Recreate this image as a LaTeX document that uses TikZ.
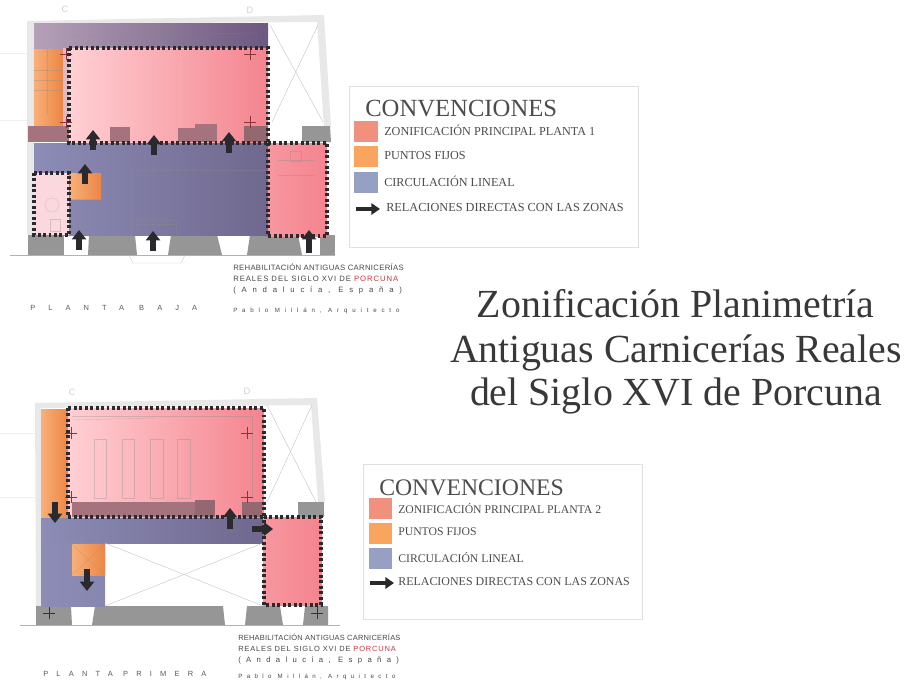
\documentclass[tikz,border=0pt]{standalone}
\usepackage{fontspec}
\setmainfont{Liberation Serif}
\setsansfont{Liberation Sans}
\usetikzlibrary{arrows.meta}
\definecolor{muro}{RGB}{232,232,232}
\definecolor{bloque}{RGB}{150,150,150}
\definecolor{malva}{RGB}{165,115,125}
\definecolor{rosaA}{RGB}{255,208,212}
\definecolor{rosaB}{RGB}{244,132,142}
\definecolor{rosaC}{RGB}{250,216,222}
\definecolor{naranjaA}{RGB}{248,176,120}
\definecolor{naranjaB}{RGB}{236,134,70}
\definecolor{azulA}{RGB}{140,140,182}
\definecolor{azulB}{RGB}{112,104,142}
\definecolor{moradoA}{RGB}{180,160,182}
\definecolor{moradoB}{RGB}{108,88,128}
\definecolor{oscuro}{RGB}{42,42,46}
\definecolor{cruzroja}{RGB}{140,50,60}
\definecolor{trazo}{RGB}{195,195,200}
\definecolor{fondoA}{RGB}{240,145,125}
\definecolor{fondoB}{RGB}{250,165,95}
\definecolor{fondoC}{RGB}{150,160,195}
\definecolor{rojo}{RGB}{205,50,60}
\begin{document}
\begin{tikzpicture}[x=0.75pt,y=-0.75pt,
  flecha/.style={draw=oscuro,line width=4.2pt,-{Triangle[width=10.5pt,length=7pt]}},
  flechita/.style={draw=oscuro,line width=3.2pt,-{Triangle[width=8.5pt,length=6.5pt]}},
  borde/.style={draw=oscuro,line width=2.4pt,dash pattern=on 2.2pt off 1.9pt},
  fino/.style={draw=trazo,line width=0.3pt},
  tenue/.style={draw=black!45,line width=0.3pt,opacity=0.35},
  cruz/.style={draw=cruzroja,line width=0.6pt},
  titulo/.style={anchor=base,inner sep=0pt,text=black!78,font=\fontsize{29.9}{32}\selectfont},
  leyenda/.style={anchor=base west,inner sep=0pt,text=black!70},
  pie/.style={anchor=base west,inner sep=0pt,text=black!72,font=\sffamily\fontsize{5.8}{6}\selectfont},
  plano/.style={anchor=base west,inner sep=0pt,text=black!65,font=\sffamily\fontsize{5.6}{6}\selectfont},
  caja/.style={draw=black!12,line width=0.7pt,fill=white}]
\useasboundingbox (0,0) rectangle (906,679);

\draw[draw=black!6,line width=0.4pt] (0,53)--(28,53);
\draw[draw=black!6,line width=0.4pt] (0,120)--(28,120);
\draw[draw=black!6,line width=0.4pt] (0,433)--(35,433);
\draw[draw=black!6,line width=0.4pt] (0,497)--(35,497);
\draw (65,9) node (ejeC) [text=black!18,font=\sffamily\scriptsize]{C};
\draw (250,10) node (ejeD) [text=black!18,font=\sffamily\scriptsize]{D};
\draw (72,392) node (ejeCb) [text=black!18,font=\sffamily\scriptsize]{C};
\draw (247,391) node (ejeDb) [text=black!18,font=\sffamily\scriptsize]{D};

\fill[muro] (27,21)--(324,15)--(331,127)--(324,127)--(317,22)--(34,24)--(34,235)--(27,235)--cycle;
\draw[draw=black!30,line width=0.4pt] (10,255)--(335,255);
\fill[bloque] (28,235)--(64,235)--(64,255)--(28,255)--cycle;
\fill[bloque] (89,235)--(135,235)--(137,255)--(88,255)--cycle;
\fill[bloque] (171,235)--(217,235)--(222,255)--(168,255)--cycle;
\fill[bloque] (250,235)--(298,235)--(302,255)--(247,255)--cycle;
\fill[bloque] (320,235)--(335,235)--(335,255)--(320,255)--cycle;
\fill[bloque] (302,126)--(330,126)--(331,142)--(302,142)--cycle;
\draw[fino] (129,255)--(133,263)--(181,263)--(185,255);

\shade[left color=moradoA,right color=moradoB] (34,23) rectangle (268,48);
\shade[left color=naranjaA,right color=naranjaB] (34,49) rectangle (63,126);
\fill[rosaC!70!malva] (63,48) rectangle (69,126);
\fill[malva] (28,126) rectangle (70,142);
\shade[left color=rosaA,right color=rosaB] (69,48) rectangle (268,143);
\fill[malva] (110,127) rectangle (130,142);
\fill[malva] (178,128) rectangle (195,142);
\fill[malva] (195,124) rectangle (217,142);
\fill[malva!90!black] (244,126) rectangle (268,142);
\shade[left color=azulA,right color=azulB] (34,143) rectangle (268,235);
\fill[rosaC] (34,173) rectangle (69,235);
\shade[left color=naranjaA,right color=naranjaB] (70,173) rectangle (101,199);
\shade[left color=rosaB!75!rosaA,right color=rosaB] (268,143) rectangle (327,236);
\draw[tenue] (70,199) rectangle (101,235);
\draw[tenue] (131,170)--(268,170);
\draw[tenue] (131,170)--(131,235);
\draw[tenue] (133,220)--(176,220)--(176,235);
\draw[tenue] (133,224)--(176,224);
\draw[tenue] (52,205) circle (7);
\draw[tenue] (50,219) rectangle (60,231);
\draw[tenue] (86,212) circle (7);
\draw[fino] (270,25)--(323,122);
\draw[fino] (318,25)--(272,122);
\draw[tenue] (278,160)--(315,160);
\draw[tenue] (278,175)--(315,175);
\draw[tenue] (290,151) rectangle (301,161);
\draw[tenue] (70,36)--(256,33)--(256,122);
\draw[tenue] (47,50)--(47,114);
\draw[tenue] (34,70)--(63,70);
\draw[tenue] (34,80)--(63,80);
\draw[tenue] (34,90)--(63,90);

\draw[cruz] (66,48)--(66,60);
\draw[cruz] (60,54)--(72,54);
\draw[cruz] (250,48)--(250,60);
\draw[cruz] (244,54)--(256,54);
\draw[cruz] (66,116)--(66,128);
\draw[cruz] (60,122)--(72,122);
\draw[cruz] (250,116)--(250,128);
\draw[cruz] (244,122)--(256,122);

\draw[borde] (69,48) rectangle (268,143);
\draw[borde] (34,173) rectangle (69,235);
\draw[borde] (268,143)--(327,143)--(327,236)--(268,236)--cycle;

\draw[flecha] (93,150)--(93,130);
\draw[flecha] (154,155)--(154,135);
\draw[flecha] (229,153)--(229,132);
\draw[flecha] (85,184)--(85,164);
\draw[flecha] (79,250)--(79,230);
\draw[flecha] (153,251)--(153,231);
\draw[flecha] (309,253)--(309,230);

\draw (30,310) node (plantabaja) [plano]{\addfontfeature{LetterSpace=175}PLANTA BAJA};
\draw (233,270) node (rehaA) [pie]{\addfontfeature{LetterSpace=4}REHABILITACIÓN ANTIGUAS CARNICERÍAS};
\draw (233,281) node (rehaB) [pie]{\addfontfeature{LetterSpace=12}REALES DEL SIGLO XVI DE \textcolor{rojo}{PORCUNA}};
\draw (233,292) node (rehaC) [pie]{\addfontfeature{LetterSpace=75}(Andalucía, España)};
\draw (233,312) node (rehaD) [pie]{\fontsize{4.6}{6}\selectfont\addfontfeature{LetterSpace=79}Pablo Millán, Arquitecto};

\draw[caja] (349,86) rectangle (638,247);
\draw (365,116) node (conv) [leyenda,font=\fontsize{18.5}{20}\selectfont]{CONVENCIONES};
\fill[fondoA] (354,121) rectangle (378,142);
\fill[fondoB] (354,146) rectangle (378,167);
\fill[fondoC] (354,172) rectangle (378,193);
\draw[flechita] (356,209)--(380,209);
\draw (384,135.5) node (convA) [leyenda,font=\fontsize{9.15}{10}\selectfont]{ZONIFICACIÓN PRINCIPAL PLANTA 1};
\draw (384,159.5) node (convB) [leyenda,font=\fontsize{9.15}{10}\selectfont]{PUNTOS FIJOS};
\draw (384,186.5) node (convC) [leyenda,font=\fontsize{9.15}{10}\selectfont]{CIRCULACIÓN LINEAL};
\draw (386,211.5) node (convD) [leyenda,font=\fontsize{9.2}{10}\selectfont]{RELACIONES DIRECTAS CON LAS ZONAS};

\draw (675.5,317) node (tituloA) [titulo]{Zonificación Planimetría};
\draw (676,362) node (tituloB) [titulo]{Antiguas Carnicerías Reales};
\draw (676,405) node (tituloC) [titulo]{del Siglo XVI de Porcuna};

\fill[muro] (35,403)--(317,398)--(325,502)--(318,502)--(311,405)--(41,408)--(41,606)--(36,606)--cycle;
\draw[draw=black!30,line width=0.4pt] (20,625)--(340,625);
\fill[bloque] (36,606)--(71,606)--(72,625)--(36,625)--cycle;
\fill[bloque] (95,606)--(223,606)--(225,625)--(92,625)--cycle;
\fill[bloque] (247,606)--(280,606)--(283,625)--(245,625)--cycle;
\fill[bloque] (305,606)--(328,606)--(328,625)--(303,625)--cycle;
\fill[bloque] (298,502) rectangle (324,517);

\shade[left color=naranjaA,right color=naranjaB] (41,409) rectangle (68,518);
\shade[left color=rosaA,right color=rosaB] (68,408) rectangle (264,517);
\fill[malva] (72,502) rectangle (195,517);
\fill[malva!90!black] (195,500) rectangle (215,517);
\fill[malva!90!black] (242,502) rectangle (262,517);
\shade[left color=azulA,right color=azulB] (41,518) rectangle (263,543);
\shade[left color=azulA,right color=azulA!85!azulB] (41,543) rectangle (105,606);
\shade[left color=naranjaA,right color=naranjaB] (72,544) rectangle (105,575);
\shade[left color=rosaB!75!rosaA,right color=rosaB] (263,517) rectangle (322,605);
\draw[tenue] (94,439) rectangle (106,498);
\draw[tenue] (122,439) rectangle (134,498);
\draw[tenue] (150,439) rectangle (163,498);
\draw[tenue] (177,439) rectangle (190,498);
\draw[tenue] (72,416)--(252,416)--(252,500);
\draw[tenue] (72,420)--(155,418);
\draw[tenue] (72,544)--(105,575);
\draw[tenue] (105,544)--(72,575);
\draw[tenue] (57,545)--(72,545);
\draw[fino] (267,405)--(316,502);
\draw[fino] (312,405)--(267,502);
\draw[fino] (105,543)--(263,606);
\draw[fino] (263,543)--(105,606);

\draw[cruz] (71,427)--(71,439);
\draw[cruz] (65,433)--(77,433);
\draw[cruz] (247,427)--(247,439);
\draw[cruz] (241,433)--(253,433);
\draw[cruz] (71,491)--(71,503);
\draw[cruz] (65,497)--(77,497);
\draw[cruz] (247,491)--(247,503);
\draw[cruz] (241,497)--(253,497);
\draw[cruz,draw=black!80] (49,607)--(49,619);
\draw[cruz,draw=black!80] (43,613)--(55,613);
\draw[cruz,draw=black!80] (317,607)--(317,619);
\draw[cruz,draw=black!80] (311,613)--(323,613);

\draw[borde] (68,408) rectangle (264,517);
\draw[borde] (264,517)--(321,517)--(321,605)--(264,605)--cycle;

\draw[flecha] (55,502)--(55,523);
\draw[flecha] (230,529)--(230,508);
\draw[flecha] (252,529)--(273,529);
\draw[flecha] (87,569)--(87,591);

\draw (43,676) node (plantaprimera) [plano]{\addfontfeature{LetterSpace=110}PLANTA PRIMERA};
\draw (238,640) node (rehbA) [pie,font=\sffamily\fontsize{5.6}{6}\selectfont]{\addfontfeature{LetterSpace=3}REHABILITACIÓN ANTIGUAS CARNICERÍAS};
\draw (238,651) node (rehbB) [pie,font=\sffamily\fontsize{5.6}{6}\selectfont]{\addfontfeature{LetterSpace=11}REALES DEL SIGLO XVI DE \textcolor{rojo}{PORCUNA}};
\draw (238,662) node (rehbC) [pie]{\addfontfeature{LetterSpace=69}(Andalucía, España)};
\draw (238,678.5) node (rehbD) [pie]{\fontsize{4.6}{6}\selectfont\addfontfeature{LetterSpace=72}Pablo Millán, Arquitecto};

\draw[caja] (363,464) rectangle (642,619);
\draw (379,495) node (convb) [leyenda,font=\fontsize{17.8}{20}\selectfont]{CONVENCIONES};
\fill[fondoA] (369,498) rectangle (392,519);
\fill[fondoB] (369,523) rectangle (392,544);
\fill[fondoC] (369,548) rectangle (392,569);
\draw[flechita] (370,583)--(394,583);
\draw (398,513) node (convbA) [leyenda,font=\fontsize{8.8}{10}\selectfont]{ZONIFICACIÓN PRINCIPAL PLANTA 2};
\draw (398,535.5) node (convbB) [leyenda,font=\fontsize{8.8}{10}\selectfont]{PUNTOS FIJOS};
\draw (398,562.5) node (convbC) [leyenda,font=\fontsize{8.8}{10}\selectfont]{CIRCULACIÓN LINEAL};
\draw (398,585.5) node (convbD) [leyenda,font=\fontsize{8.97}{10}\selectfont]{RELACIONES DIRECTAS CON LAS ZONAS};
\end{tikzpicture}
\end{document}
